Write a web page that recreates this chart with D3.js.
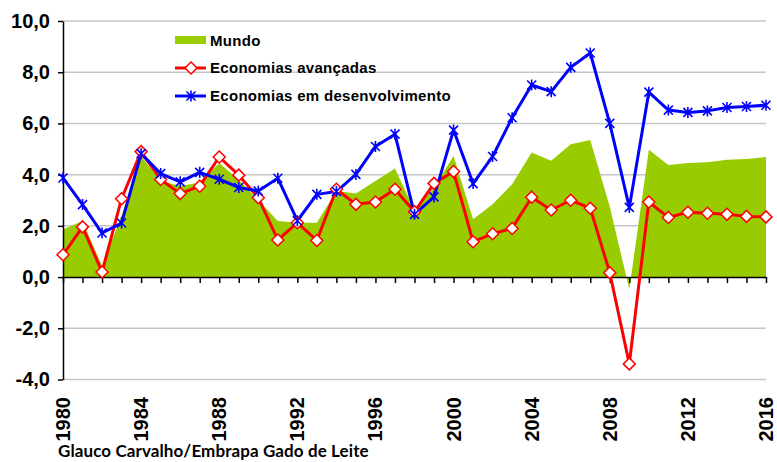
<!DOCTYPE html>
<html><head><meta charset="utf-8">
<script src="https://cdn.jsdelivr.net/npm/d3@7"></script>
<style>body{margin:0;background:#fff}svg{display:block}</style>
</head><body>
<script>
const years = d3.range(1980, 2017);
const mundo = [1.86, 2.19, 0.43, 2.4, 4.73, 3.75, 3.56, 3.69, 4.45, 3.8, 3.0, 2.19, 2.12, 2.12, 3.36, 3.26, 3.75, 4.24, 2.6, 3.5, 4.73, 2.26, 2.84, 3.62, 4.86, 4.54, 5.19, 5.35, 2.75, -0.48, 4.97, 4.38, 4.45, 4.48, 4.58, 4.61, 4.69];
const avancadas = [0.87, 1.96, 0.2, 3.06, 4.9, 3.81, 3.26, 3.55, 4.69, 3.98, 3.1, 1.45, 2.12, 1.43, 3.43, 2.84, 2.93, 3.43, 2.55, 3.66, 4.12, 1.38, 1.69, 1.9, 3.12, 2.62, 3.0, 2.69, 0.17, -3.39, 2.93, 2.33, 2.53, 2.49, 2.45, 2.37, 2.35];
const desenvolvimento = [3.87, 2.83, 1.72, 2.11, 4.82, 4.04, 3.72, 4.09, 3.82, 3.5, 3.36, 3.86, 2.2, 3.23, 3.34, 4.01, 5.1, 5.58, 2.45, 3.13, 5.74, 3.65, 4.71, 6.22, 7.5, 7.24, 8.19, 8.75, 6.0, 2.72, 7.22, 6.52, 6.43, 6.49, 6.62, 6.66, 6.71];
const yTicks = [-4, -2, 0, 2, 4, 6, 8, 10];
const xTickLabels = [1980, 1984, 1988, 1992, 1996, 2000, 2004, 2008, 2012, 2016];
const seriesNames = ["Mundo", "Economias avançadas", "Economias em desenvolvimento"];
const source = "Glauco Carvalho/Embrapa Gado de Leite";

const W = 777, H = 462;
const svg = d3.select("body").append("svg").attr("width", W).attr("height", H);
const x = d3.scaleLinear().domain([1980, 2016]).range([63, 766]);
const y = d3.scaleLinear().domain([-4, 10]).range([379.5, 21]);
const fmt = v => d3.format(".1f")(v).replace(".", ",").replace("−", "-");

// gridlines
svg.append("g").selectAll("line").data(yTicks.filter(v => v !== 0)).join("line")
  .attr("x1", x(1980)).attr("x2", x(2016))
  .attr("y1", d => y(d)).attr("y2", d => y(d))
  .attr("stroke", "#c6c6c6").attr("stroke-width", 1.5);

// Mundo area
const data = years.map((yr, i) => ({yr, m: mundo[i], a: avancadas[i], d: desenvolvimento[i]}));
svg.append("path").datum(data)
  .attr("d", d3.area().x(d => x(d.yr)).y0(y(0)).y1(d => y(d.m)))
  .attr("fill", "#99cc00");

// axes
const yAxis = svg.append("g").attr("transform", `translate(${x(1980)},0)`)
  .call(d3.axisLeft(y).tickValues(yTicks).tickFormat(fmt).tickSize(5).tickSizeOuter(0));
yAxis.select(".domain").attr("stroke", "#000").attr("stroke-width", 1.5);
yAxis.selectAll(".tick line").attr("stroke", "#000").attr("stroke-width", 1.5);
yAxis.selectAll("text").attr("font-family", "Liberation Sans, Arial, sans-serif")
  .attr("font-weight", "bold").attr("font-size", 20).attr("fill", "#000").attr("x", -13);

const xAxis = svg.append("g").attr("transform", `translate(0,${y(0)})`)
  .call(d3.axisBottom(x).tickValues(years).tickFormat("").tickSize(6).tickSizeOuter(0));
xAxis.select(".domain").attr("stroke", "#000").attr("stroke-width", 1.5);
xAxis.selectAll(".tick line").attr("stroke", "#000").attr("stroke-width", 1.5);

svg.append("g").selectAll("text").data(xTickLabels).join("text")
  .attr("transform", d => `translate(${x(d) + 7},397) rotate(-90)`)
  .attr("text-anchor", "end")
  .attr("font-family", "Liberation Sans, Arial, sans-serif")
  .attr("font-weight", "bold").attr("font-size", 20).attr("fill", "#000")
  .text(d => d);

// lines
const lineA = d3.line().x(d => x(d.yr)).y(d => y(d.a));
const lineD = d3.line().x(d => x(d.yr)).y(d => y(d.d));
svg.append("path").datum(data).attr("d", lineA).attr("fill", "none")
  .attr("stroke", "#ff0000").attr("stroke-width", 3).attr("stroke-linejoin", "round");
svg.append("path").datum(data).attr("d", lineD).attr("fill", "none")
  .attr("stroke", "#0000ff").attr("stroke-width", 3).attr("stroke-linejoin", "round");

const diamond = "M0,-6L6,0L0,6L-6,0Z";
const star = "M-4.5,-4.5L4.5,4.5M-4.5,4.5L4.5,-4.5M0,-5.5L0,5.5";

svg.append("g").selectAll("path").data(data).join("path")
  .attr("transform", d => `translate(${x(d.yr)},${y(d.a)})`)
  .attr("d", diamond).attr("fill", "#fff").attr("stroke", "#ff0000").attr("stroke-width", 1.5);
svg.append("g").selectAll("path").data(data).join("path")
  .attr("transform", d => `translate(${x(d.yr)},${y(d.d)})`)
  .attr("d", star).attr("fill", "none").attr("stroke", "#0000ff").attr("stroke-width", 1.6);

// legend
const lg = svg.append("g");
const lgY = [40.5, 68, 96];
lg.append("rect").attr("x", 175).attr("y", 36).attr("width", 31).attr("height", 8).attr("fill", "#99cc00");
lg.append("line").attr("x1", 175).attr("x2", 206).attr("y1", lgY[1]).attr("y2", lgY[1]).attr("stroke", "#ff0000").attr("stroke-width", 3);
lg.append("path").attr("transform", `translate(191,${lgY[1]})`).attr("d", diamond).attr("fill", "#fff").attr("stroke", "#ff0000").attr("stroke-width", 1.5);
lg.append("line").attr("x1", 175).attr("x2", 206).attr("y1", lgY[2]).attr("y2", lgY[2]).attr("stroke", "#0000ff").attr("stroke-width", 3);
lg.append("path").attr("transform", `translate(191,${lgY[2]})`).attr("d", star).attr("fill", "none").attr("stroke", "#0000ff").attr("stroke-width", 1.6);
lg.selectAll("text").data(seriesNames).join("text")
  .attr("x", 210).attr("y", (d, i) => lgY[i]).attr("dy", "0.36em")
  .attr("font-family", "Liberation Sans, Arial, sans-serif")
  .attr("font-weight", "bold").attr("font-size", 15).attr("letter-spacing", 0.3).attr("fill", "#000")
  .text(d => d);

// source
svg.append("text").attr("x", 58).attr("y", 457)
  .attr("font-family", "Lato, 'Open Sans', sans-serif").attr("font-weight", "bold")
  .attr("font-size", 17).attr("letter-spacing", 0.1).attr("fill", "#000").text(source);
</script>
</body></html>
